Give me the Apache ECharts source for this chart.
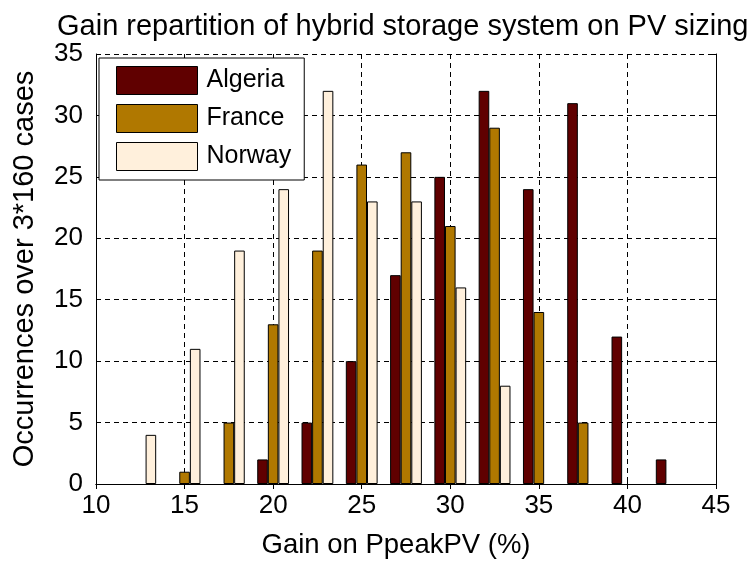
<!DOCTYPE html>
<html><head><meta charset="utf-8">
<script src="https://cdn.jsdelivr.net/npm/echarts@6/dist/echarts.min.js"></script>
<style>html,body{margin:0;padding:0;background:#fff}#c{width:752px;height:564px}</style>
</head><body><div id="c"></div>
<script>
// ---- data ----
const binCenters = [12.5, 15, 17.5, 20, 22.5, 25, 27.5, 30, 32.5, 35, 37.5, 40, 42.5];
const algeria = [0, 0, 0, 2, 5, 10, 17, 25, 32, 24, 31, 12, 2];
const france  = [0, 1, 5, 13, 19, 26, 27, 21, 29, 14, 5, 0, 0];
const norway  = [4, 11, 19, 24, 32, 23, 23, 16, 8, 0, 0, 0, 0];
const seriesNames = ['Algeria', 'France', 'Norway'];
const xRange = [10, 45, 5];
const yRange = [0, 35, 5];
const titleText = 'Gain repartition of hybrid storage system on PV sizing';
const xName = 'Gain on PpeakPV (%)';
const yName = 'Occurrences over 3*160 cases';

const FONT = 'Liberation Sans, Arial, sans-serif';
const colors = ['#600000', '#B07800', '#FFF0DC'];
const values = [algeria, france, norway];

function pairs(vals) {
  const out = [];
  binCenters.forEach((c, i) => { if (vals[i] > 0) out.push([c, vals[i]]); });
  return out;
}

const chart = echarts.init(document.getElementById('c'), null, {renderer: 'canvas'});
const gridLine = {show: true, lineStyle: {color: '#000', type: [5, 4], width: 1}};
const axLine = {show: true, lineStyle: {color: '#000', width: 1}};
const tick = {show: true, inside: true, length: 5, lineStyle: {color: '#000'}};

chart.setOption({
  animation: false,
  backgroundColor: '#fff',
  title: {
    text: titleText, left: 52, top: 7,
    textStyle: {fontFamily: FONT, fontSize: 29, fontWeight: 'normal', color: '#000'}
  },
  grid: {left: 96, right: 36, top: 54, bottom: 76, containLabel: false},
  legend: {
    orient: 'vertical', left: 99, top: 58,
    data: seriesNames,
    icon: 'rect', itemWidth: 81, itemHeight: 28, itemGap: 9,
    padding: [8, 13, 9, 17],
    backgroundColor: '#fff', borderColor: '#000', borderWidth: 1,
    itemStyle: {borderColor: '#000', borderWidth: 1},
    textStyle: {fontFamily: FONT, fontSize: 25, color: '#000', padding: [0, 0, 0, 4]}
  },
  xAxis: [{
    type: 'value', position: 'bottom', min: xRange[0], max: xRange[1], interval: xRange[2],
    axisLine: axLine, axisTick: tick, splitLine: gridLine,
    axisLabel: {fontFamily: FONT, fontSize: 26, color: '#000', margin: 9},
    name: xName, nameLocation: 'middle', nameGap: 47,
    nameTextStyle: {fontFamily: FONT, fontSize: 27.5, color: '#000', padding: [0, 20, 0, 0]}
  }, {
    type: 'value', position: 'top', min: xRange[0], max: xRange[1], interval: xRange[2],
    axisLine: axLine, axisTick: tick, splitLine: {show: false}, axisLabel: {show: false}
  }],
  yAxis: [{
    type: 'value', position: 'left', min: yRange[0], max: yRange[1], interval: yRange[2],
    axisLine: axLine, axisTick: tick, splitLine: gridLine,
    axisLabel: {fontFamily: FONT, fontSize: 26, color: '#000', margin: 13},
    name: yName, nameLocation: 'middle', nameGap: 57,
    nameTextStyle: {fontFamily: FONT, fontSize: 29, color: '#000'}
  }, {
    type: 'value', position: 'right', min: yRange[0], max: yRange[1], interval: yRange[2],
    axisLine: axLine, axisTick: tick, splitLine: {show: false}, axisLabel: {show: false}
  }],
  series: seriesNames.map((n, k) => ({
    name: n, type: 'bar', xAxisIndex: 0, yAxisIndex: 0,
    data: pairs(values[k]),
    barWidth: 10.6, barGap: '0%',
    itemStyle: {color: colors[k], borderColor: '#000', borderWidth: 1},
    emphasis: {disabled: true}
  }))
});
</script></body></html>
